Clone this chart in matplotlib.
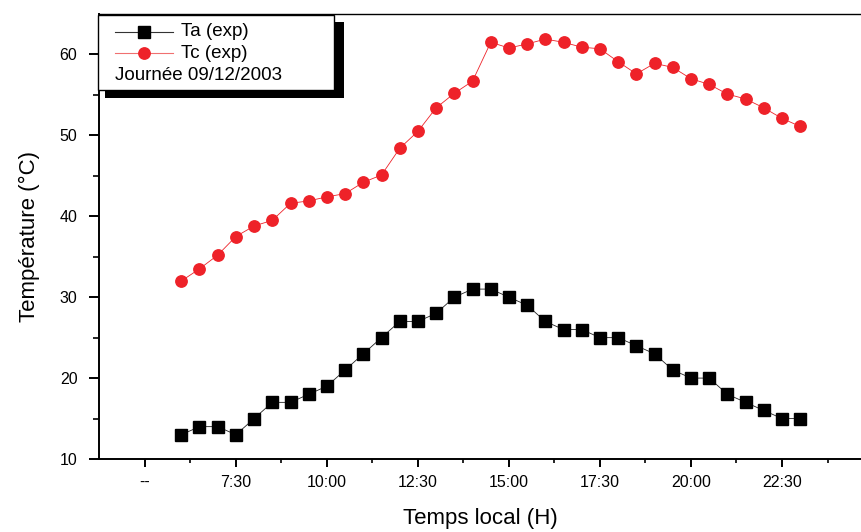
import numpy as np
import matplotlib
matplotlib.use("Agg")
import matplotlib.pyplot as plt
from matplotlib.lines import Line2D
from matplotlib.patches import Rectangle

plt.rcParams['font.family'] = ['Liberation Sans', 'DejaVu Sans']

# heure locale (h), un point toutes les 30 min de 6:00 a 23:00
hours = np.arange(6.0, 23.01, 0.5)
ta = [13, 14, 14, 13, 15, 17, 17, 18, 19, 21, 23, 25, 27, 27, 28, 30, 31, 31,
      30, 29, 27, 26, 26, 25, 25, 24, 23, 21, 20, 20, 18, 17, 16, 15, 15]
tc = [32.0, 33.5, 35.2, 37.5, 38.8, 39.5, 41.6, 41.9, 42.4, 42.8, 44.2, 45.1,
      48.4, 50.5, 53.4, 55.2, 56.7, 61.5, 60.8, 61.3, 61.9, 61.5, 60.9, 60.7,
      59.1, 57.6, 58.9, 58.4, 57.0, 56.3, 55.1, 54.5, 53.4, 52.1, 51.1]

xticks = [5, 7.5, 10, 12.5, 15, 17.5, 20, 22.5]
xticklabels = ['--', '7:30', '10:00', '12:30', '15:00', '17:30', '20:00', '22:30']
yticks = [10, 20, 30, 40, 50, 60]

red = '#ee2229'

fig = plt.figure(figsize=(8.61, 5.32), dpi=100)
ax = fig.add_axes([99/861, 1-459/532, 1-99/861, (459-14)/532])

ax.plot(hours, ta, color='#222222', lw=0.6, marker='s', ms=8.4,
        markerfacecolor='black', markeredgecolor='black', zorder=3)
ax.plot(hours, tc, color=red, lw=0.6, marker='o', ms=8.2,
        markerfacecolor=red, markeredgecolor=red, zorder=3)

ax.set_xlim(3.74, 24.67)
ax.set_ylim(10, 65)
ax.set_xticks(xticks)
ax.set_xticklabels(xticklabels)
ax.set_xticks(np.arange(6.25, 24.5, 2.5), minor=True)
ax.set_yticks(yticks)
ax.set_yticks(np.arange(15, 65, 10), minor=True)

ax.spines['right'].set_visible(False)
for s in ['left', 'bottom']:
    ax.spines[s].set_linewidth(1.4)
ax.spines['top'].set_linewidth(1.0)

ax.tick_params(axis='x', which='major', length=5.5, width=1.4, pad=6, labelsize=11.5)
ax.tick_params(axis='x', which='minor', length=3, width=1.2)
ax.tick_params(axis='y', which='major', length=7.5, width=1.4, pad=8, labelsize=11.5)
ax.tick_params(axis='y', which='minor', length=4.5, width=1.2)

ax.set_xlabel('Temps local (H)', fontsize=16, labelpad=13)
ax.set_ylabel('Température (°C)', fontsize=16, labelpad=14)

# legende encadree avec ombre
W, H = 861, 532
def fx(px):
    return px / W
def fy(py):
    return 1 - py / H

fig.patches.append(Rectangle((fx(105), fy(98)), fx(344) - fx(105), fy(22) - fy(98),
                             transform=fig.transFigure, facecolor='black',
                             edgecolor='none', zorder=5))
fig.patches.append(Rectangle((fx(98), fy(90)), fx(334) - fx(98), fy(15) - fy(90),
                             transform=fig.transFigure, facecolor='white',
                             edgecolor='black', lw=1.0, zorder=6))
fig.lines.append(Line2D([fx(115), fx(173)], [fy(32), fy(32)], transform=fig.transFigure,
                        color='#333333', lw=0.8, zorder=7))
fig.lines.append(Line2D([fx(144)], [fy(32)], transform=fig.transFigure, marker='s',
                        ms=8.4, color='black', zorder=7))
fig.lines.append(Line2D([fx(115), fx(173)], [fy(53), fy(53)], transform=fig.transFigure,
                        color='#f07070', lw=0.8, zorder=7))
fig.lines.append(Line2D([fx(144)], [fy(53)], transform=fig.transFigure, marker='o',
                        ms=8.2, color=red, zorder=7))
fig.text(fx(181), fy(32), 'Ta (exp)', fontsize=13.5, va='center', ha='left', zorder=8)
fig.text(fx(181), fy(53), 'Tc (exp)', fontsize=13.5, va='center', ha='left', zorder=8)
fig.text(fx(115), fy(75), 'Journée 09/12/2003', fontsize=13.5, va='center', ha='left', zorder=8)

fig.savefig('out.png', dpi=100)
